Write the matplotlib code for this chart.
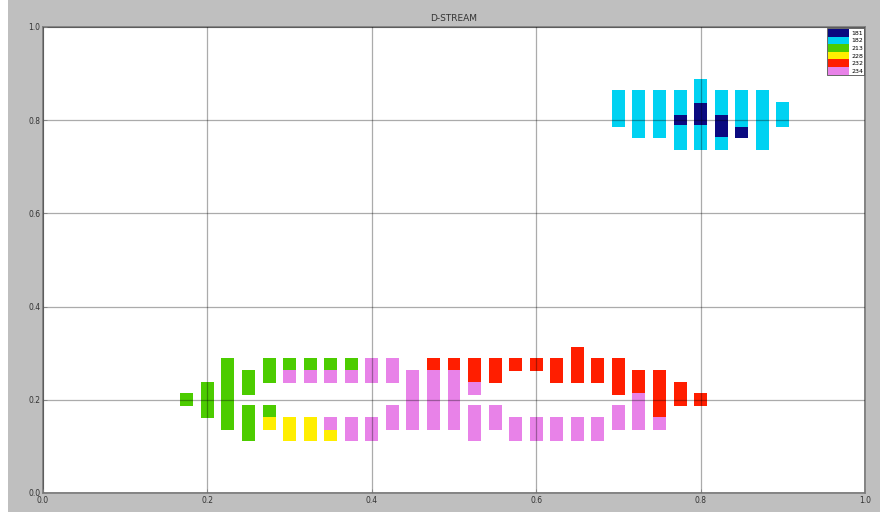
import numpy as np
import matplotlib
matplotlib.use("Agg")
import matplotlib.pyplot as plt
from matplotlib.patches import Rectangle

# cluster labels and colours (legend order)
labels = ['181', '182', '213', '228', '232', '234']
colors = ['#0a0a80', '#00d2f2', '#4ccc00', '#ffee00', '#ff1e00', '#e882e8']

# each cluster: column x, lowest cell centre, highest cell centre
c181_x = [0.775, 0.8, 0.825, 0.85]
c181_lo = [0.8, 0.8, 0.775, 0.775]
c181_hi = [0.8, 0.825, 0.8, 0.775]

c182_x = [0.7, 0.725, 0.75, 0.775, 0.775, 0.8, 0.8, 0.825, 0.825, 0.85, 0.875, 0.9]
c182_lo = [0.8, 0.775, 0.775, 0.825, 0.75, 0.85, 0.75, 0.825, 0.75, 0.8, 0.75, 0.8]
c182_hi = [0.85, 0.85, 0.85, 0.85, 0.775, 0.875, 0.775, 0.85, 0.75, 0.85, 0.85, 0.825]

c213_x = [0.175, 0.2, 0.225, 0.25, 0.25, 0.275, 0.275, 0.3, 0.325, 0.35, 0.375]
c213_lo = [0.2, 0.175, 0.15, 0.225, 0.125, 0.25, 0.175, 0.275, 0.275, 0.275, 0.275]
c213_hi = [0.2, 0.225, 0.275, 0.25, 0.175, 0.275, 0.175, 0.275, 0.275, 0.275, 0.275]

c228_x = [0.275, 0.3, 0.325, 0.35]
c228_lo = [0.15, 0.125, 0.125, 0.125]
c228_hi = [0.15, 0.15, 0.15, 0.125]

c232_x = [0.475, 0.5, 0.525, 0.55, 0.575, 0.6, 0.625, 0.65, 0.675, 0.7, 0.725, 0.75, 0.775, 0.8]
c232_lo = [0.275, 0.275, 0.25, 0.25, 0.275, 0.275, 0.25, 0.25, 0.25, 0.225, 0.225, 0.175, 0.2, 0.2]
c232_hi = [0.275, 0.275, 0.275, 0.275, 0.275, 0.275, 0.275, 0.3, 0.275, 0.275, 0.25, 0.25, 0.225, 0.2]

c234_x = [0.3, 0.325, 0.35, 0.35, 0.375, 0.375, 0.4, 0.4, 0.425, 0.425, 0.45, 0.475, 0.5,
          0.525, 0.525, 0.55, 0.575, 0.6, 0.625, 0.65, 0.675, 0.7, 0.725, 0.75]
c234_lo = [0.25, 0.25, 0.25, 0.15, 0.25, 0.125, 0.25, 0.125, 0.25, 0.15, 0.15, 0.15, 0.15,
           0.225, 0.125, 0.15, 0.125, 0.125, 0.125, 0.125, 0.125, 0.15, 0.15, 0.15]
c234_hi = [0.25, 0.25, 0.25, 0.15, 0.25, 0.15, 0.275, 0.15, 0.275, 0.175, 0.25, 0.25, 0.25,
           0.225, 0.175, 0.175, 0.15, 0.15, 0.15, 0.15, 0.15, 0.175, 0.2, 0.15]

clusters = [
    (c181_x, c181_lo, c181_hi),
    (c182_x, c182_lo, c182_hi),
    (c213_x, c213_lo, c213_hi),
    (c228_x, c228_lo, c228_hi),
    (c232_x, c232_lo, c232_hi),
    (c234_x, c234_lo, c234_hi),
]

ticks = [0.0, 0.2, 0.4, 0.6, 0.8, 1.0]
tick_labels = ['0.0', '0.2', '0.4', '0.6', '0.8', '1.0']

cell_w = 0.0158
cell_h = 0.0279

fig = plt.figure(figsize=(8.8, 5.12), dpi=100, facecolor='#bfbfbf')
fig.add_artist(Rectangle((0, 0), 8 / 880, 1, transform=fig.transFigure,
                         facecolor='white', edgecolor='none'))
ax = fig.add_axes([43 / 880, 19 / 512, 822 / 880, 466 / 512])
ax.set_facecolor('white')

for (xs, lo, hi), lab, col in zip(clusters, labels, colors):
    lo = np.array(lo)
    hi = np.array(hi)
    ax.bar(xs, hi - lo + cell_h, bottom=lo - cell_h / 2, width=cell_w,
           color=col, linewidth=0, label=lab, zorder=2)

ax.set_xlim(0, 1)
ax.set_ylim(0, 1)
ax.set_xticks(ticks)
ax.set_xticklabels(tick_labels)
ax.set_yticks(ticks)
ax.set_yticklabels(tick_labels)
ax.tick_params(direction='in', length=3, width=0.6, color='0.5',
               labelsize=5.5, labelcolor='#333333', pad=2)
# grid sits on top of the cells, as in the original
ax.set_axisbelow(False)
ax.grid(True, color='k', alpha=0.33, linewidth=0.9, zorder=3)
for s in ax.spines.values():
    s.set_color('0.5')
    s.set_linewidth(1.3)

ax.set_title('D-STREAM', fontsize=6.5, color='#333333', pad=4)

leg = ax.legend(loc='upper right', bbox_to_anchor=(1, 1), fontsize=4.5,
                handlelength=3.4, handleheight=1.5, labelspacing=0,
                handletextpad=0.3, borderpad=0.1, borderaxespad=0.2,
                fancybox=False, framealpha=1)
leg.get_frame().set_edgecolor('0.3')
leg.get_frame().set_linewidth(0.6)
leg.set_zorder(5)

plt.savefig('out.png', dpi=100, facecolor=fig.get_facecolor())
